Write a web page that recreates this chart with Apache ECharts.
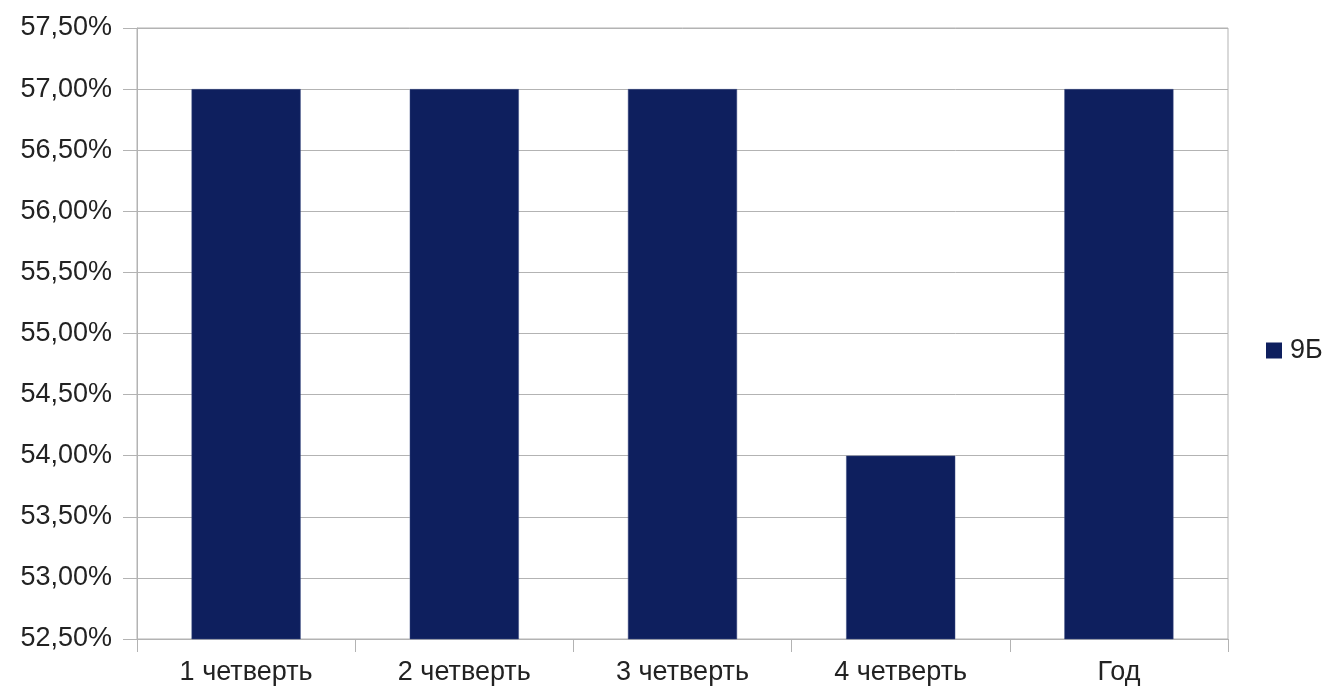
<!DOCTYPE html>
<html><head><meta charset="utf-8">
<script src="https://cdn.jsdelivr.net/npm/echarts@6/dist/echarts.min.js"></script>
<style>html,body{margin:0;padding:0;background:#fff}#c{width:1329px;height:687px}</style>
</head><body><div id="c"></div>
<script>
const categories = ['1 четверть', '2 четверть', '3 четверть', '4 четверть', 'Год'];
const seriesName = '9Б';
const values = [57, 57, 57, 54, 57];
const yMin = 52.5, yMax = 57.5, yStep = 0.5;

const chart = echarts.init(document.getElementById('c'), null, {renderer: 'canvas'});
const font = 'Liberation Sans, Arial, sans-serif';
chart.setOption({
  animation: false,
  grid: {left: 137, right: 101, top: 28, bottom: 48, show: true, borderColor: '#b3b3b3', borderWidth: 1, backgroundColor: 'transparent'},
  legend: {
    show: true, orient: 'vertical', left: 1261, top: 332, padding: 5,
    itemWidth: 16, itemHeight: 16, itemGap: 8,
    icon: 'rect',
    itemStyle: {borderWidth: 0},
    textStyle: {fontFamily: font, fontSize: 27, color: '#222', padding: [0, 0, 0, 3]},
    data: [seriesName]
  },
  xAxis: {
    type: 'category', data: categories, boundaryGap: true,
    axisLine: {lineStyle: {color: '#b3b3b3', width: 1}},
    axisTick: {show: true, length: 13, alignWithLabel: false, lineStyle: {color: '#b3b3b3'}},
    axisLabel: {fontFamily: font, fontSize: 27, color: '#222', margin: 20}
  },
  yAxis: {
    type: 'value', min: yMin, max: yMax, interval: yStep,
    axisLine: {show: true, lineStyle: {color: '#b3b3b3'}},
    axisTick: {show: true, length: 14, lineStyle: {color: '#b3b3b3'}},
    splitLine: {lineStyle: {color: '#b3b3b3', width: 1}},
    axisLabel: {fontFamily: font, fontSize: 27, color: '#222', margin: 25,
      formatter: v => v.toFixed(2).replace('.', ',') + '%'}
  },
  series: [{
    name: seriesName, type: 'bar', data: values, barWidth: '50%',
    itemStyle: {color: '#0e1f5e', borderColor: '#3a4a80', borderWidth: 0.5}
  }]
});
</script></body></html>
